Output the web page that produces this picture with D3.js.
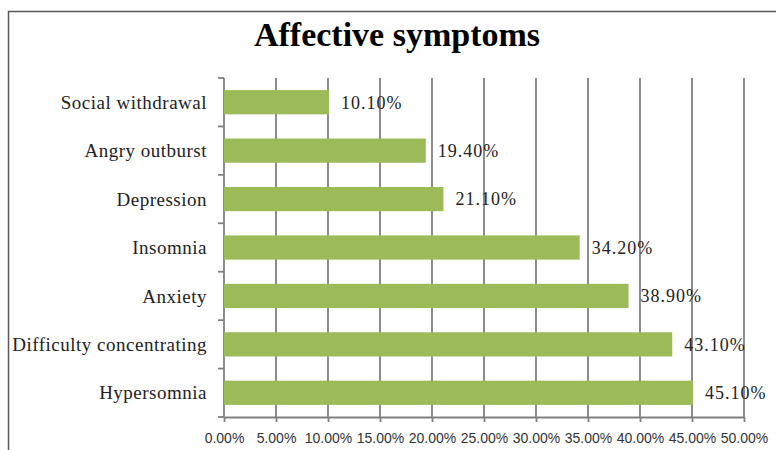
<!DOCTYPE html>
<html>
<head>
<meta charset="utf-8">
<script src="https://cdn.jsdelivr.net/npm/d3@7"></script>
<style>
  html, body { margin: 0; padding: 0; background: #fff; }
  svg { display: block; }
</style>
</head>
<body>
<div id="chart"></div>
<script>
const titleText = "Affective symptoms";
const categories = ["Social withdrawal", "Angry outburst", "Depression", "Insomnia", "Anxiety", "Difficulty concentrating", "Hypersomnia"];
const values = [10.1, 19.4, 21.1, 34.2, 38.9, 43.1, 45.1];
const tickValues = [0, 5, 10, 15, 20, 25, 30, 35, 40, 45, 50];

const W = 776, H = 450;
const margin = { left: 224, right: 32, top: 78, bottom: 33 };

const svg = d3.select("#chart").append("svg").attr("width", W).attr("height", H);

// outer frame (left and top edges visible)
svg.append("path")
  .attr("d", `M8.5,${H} L8.5,11.5 L${W},11.5`)
  .attr("fill", "none").attr("stroke", "#595959").attr("stroke-width", 1.5);

svg.append("text")
  .attr("x", 397).attr("y", 46)
  .attr("text-anchor", "middle")
  .attr("font-family", "'Liberation Serif', 'Times New Roman', serif")
  .attr("font-weight", "bold").attr("font-size", 34)
  .attr("fill", "#000")
  .text(titleText);

const x = d3.scaleLinear().domain([0, 50]).range([margin.left, W - margin.right]);
const y = d3.scaleBand().domain(categories).range([margin.top, H - margin.bottom]).paddingInner(0.5).paddingOuter(0.25);

const gridColor = "#808080";

// vertical gridlines
svg.append("g").selectAll("line").data(tickValues.slice(1)).join("line")
  .attr("x1", d => x(d)).attr("x2", d => x(d))
  .attr("y1", margin.top).attr("y2", H - margin.bottom)
  .attr("stroke", gridColor).attr("stroke-width", 1.8);

// x axis
const xAxis = svg.append("g")
  .attr("transform", `translate(0,${H - margin.bottom})`)
  .call(d3.axisBottom(x).tickValues(tickValues).tickSize(5).tickSizeOuter(0).tickFormat(d => d.toFixed(2) + "%"));
xAxis.select(".domain").attr("stroke", gridColor).attr("stroke-width", 1.8);
xAxis.selectAll(".tick line").attr("stroke", gridColor).attr("stroke-width", 1.8);
xAxis.selectAll(".tick text")
  .attr("font-family", "'Liberation Sans', Arial, sans-serif")
  .attr("font-size", 14).attr("fill", "#333").attr("y", 16);

// y axis line + boundary ticks
const boundaries = categories.map(c => y(c) - y.step() * y.paddingInner() / 2).concat([H - margin.bottom]);
svg.append("line")
  .attr("x1", x(0)).attr("x2", x(0))
  .attr("y1", margin.top).attr("y2", H - margin.bottom)
  .attr("stroke", gridColor).attr("stroke-width", 1.8);
svg.append("g").selectAll("line").data(boundaries).join("line")
  .attr("x1", x(0) - 6).attr("x2", x(0))
  .attr("y1", d => d).attr("y2", d => d)
  .attr("stroke", gridColor).attr("stroke-width", 1.8);

// category labels
svg.append("g").selectAll("text").data(categories).join("text")
  .attr("x", x(0) - 17)
  .attr("y", d => y(d) + y.bandwidth() / 2)
  .attr("dy", "0.35em")
  .attr("text-anchor", "end")
  .attr("font-family", "'Liberation Serif', 'Times New Roman', serif")
  .attr("font-size", 19).attr("letter-spacing", 0.5)
  .attr("fill", "#222")
  .text(d => d);

// bars
svg.append("g").selectAll("rect").data(values).join("rect")
  .attr("x", x(0))
  .attr("y", (d, i) => y(categories[i]))
  .attr("width", d => x(d) - x(0))
  .attr("height", y.bandwidth())
  .attr("fill", "#9bbb59");

// value labels
svg.append("g").selectAll("text").data(values).join("text")
  .attr("x", d => x(d) + 12)
  .attr("y", (d, i) => y(categories[i]) + y.bandwidth() / 2)
  .attr("dy", "0.35em")
  .attr("font-family", "'Liberation Serif', 'Times New Roman', serif")
  .attr("font-size", 18).attr("letter-spacing", 1)
  .attr("fill", "#222")
  .text(d => d.toFixed(2) + "%");
</script>
</body>
</html>
